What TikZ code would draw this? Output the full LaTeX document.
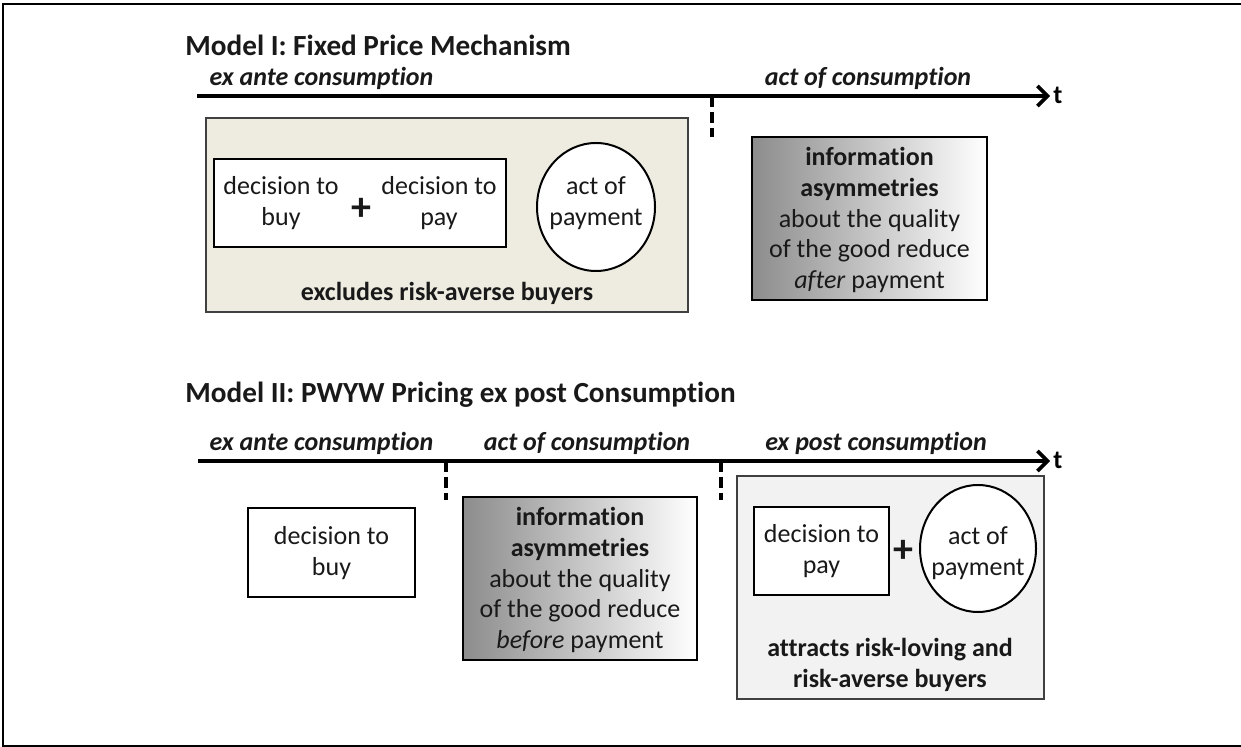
\documentclass[tikz,border=0pt]{standalone}
\usepackage{fontspec}
\setmainfont[Ligatures={NoCommon,NoContextual}]{Carlito}
\usetikzlibrary{arrows.meta,shapes.geometric}
\definecolor{tanbg}{HTML}{EEECE1}
\definecolor{lightgr}{HTML}{F2F2F2}
\tikzset{
 body/.style={font=\fontsize{13}{15.4}\selectfont, align=center, text=black!90, inner sep=0pt},
 hdr/.style={font=\fontsize{13}{15}\selectfont\bfseries\itshape, inner sep=0pt, text=black!90},
 ttl/.style={font=\fontsize{14.6}{17}\selectfont\bfseries, inner sep=0pt, anchor=west, text=black!90},
 axisline/.style={line width=1.8pt, -{Straight Barb[length=5pt,width=10pt,line width=1.8pt]}},
 tickline/.style={line width=1.8pt, dash pattern=on 5.5pt off 2.5pt},
 wbox/.style={draw=black, line width=1pt, fill=white, rectangle, inner sep=0pt},
 panel/.style={draw=black!75, line width=0.8pt, rectangle, inner sep=0pt},
 oval/.style={ellipse, draw=black, line width=1pt, fill=white, inner sep=0pt},
 grad/.style={draw=black, line width=1pt, rectangle, left color=black!45, right color=white, inner sep=0pt},
}
\begin{document}
\begin{tikzpicture}[x=0.5pt,y=-0.5pt]
\useasboundingbox (0,0) rectangle (1241,747);
\fill[white] (0,0) rectangle (1241,747);
\draw[line width=1pt] (1250,4) -- (2.7,4) -- (2.7,746) -- (1250,746);

% ---------- Model I ----------
\node[ttl] (t1) at (185,45) {Model I: Fixed Price Mechanism};
\coordinate (a1s) at (197,96);
\coordinate (a1e) at (1050,96);
\draw[axisline] (a1s) -- (a1e);
\node[font=\fontsize{13}{15}\selectfont\bfseries, anchor=west, inner sep=0pt] (t1t) at (1053,95) {t};
\node[hdr] (h1a) at (321.5,78) {ex ante consumption};
\node[hdr] (h1b) at (868,78) {act of consumption};
\coordinate (k1a) at (712,96);
\coordinate (k1b) at (712,137);
\draw[tickline] (k1a) -- (k1b);

\node[panel, fill=tanbg, minimum width=241pt, minimum height=97pt] (p1) at (447,215) {};
\node[wbox, minimum width=146pt, minimum height=44pt] (w1) at (360,203) {};
\node[body] (d1) at (281,203) {decision to\\buy};
\node[body, font=\fontsize{20}{20}\selectfont\bfseries] (plus1) at (361,209) {+};
\node[body] (d2) at (439,203) {decision to\\pay};
\node[oval, minimum width=59pt, minimum height=64pt] (e1) at (596,207) {};
\node[body] (e1t) at (596,203) {act of\\payment};
\node[body, font=\fontsize{13}{15.4}\selectfont\bfseries] (x1) at (447,293) {excludes risk-averse buyers};

\node[grad, minimum width=117.5pt, minimum height=81.5pt] (g1) at (869.5,218.5) {};
\node[body] (g1t) at (869.5,220) {\textbf{information}\\\textbf{asymmetries}\\about the quality\\of the good reduce\\\textit{after} payment};

% ---------- Model II ----------
\node[ttl] (t2) at (185,395) {Model II: PWYW Pricing ex post Consumption};
\coordinate (a2s) at (198,461);
\coordinate (a2e) at (1050,461);
\draw[axisline] (a2s) -- (a2e);
\node[font=\fontsize{13}{15}\selectfont\bfseries, anchor=west, inner sep=0pt] (t2t) at (1053,460) {t};
\node[hdr] (h2a) at (321.5,443) {ex ante consumption};
\node[hdr] (h2b) at (587,443) {act of consumption};
\node[hdr] (h2c) at (876,443) {ex post consumption};
\coordinate (k2a) at (446,461);
\coordinate (k2b) at (446,500);
\coordinate (k3a) at (721,461);
\coordinate (k3b) at (721,500);
\draw[tickline] (k2a) -- (k2b);
\draw[tickline] (k3a) -- (k3b);

\node[wbox, minimum width=83.5pt, minimum height=44.5pt] (b2) at (331.5,552.5) {};
\node[body] (b2t) at (331.5,553) {decision to\\buy};

\node[grad, minimum width=117pt, minimum height=81.5pt] (g2) at (580,578.5) {};
\node[body] (g2t) at (580,580) {\textbf{information}\\\textbf{asymmetries}\\about the quality\\of the good reduce\\\textit{before} payment};

\node[panel, fill=lightgr, minimum width=153.5pt, minimum height=111.5pt] (p2) at (890.5,587.5) {};
\node[wbox, minimum width=67.5pt, minimum height=44pt] (w2) at (821.5,551) {};
\node[body] (w2t) at (821.5,551) {decision to\\pay};
\node[body, font=\fontsize{20}{20}\selectfont\bfseries] (plus2) at (903,551) {+};
\node[oval, minimum width=58pt, minimum height=63.5pt] (e2) at (978,548.5) {};
\node[body] (e2t) at (978,553) {act of\\payment};
\node[body, font=\fontsize{13}{15.4}\selectfont\bfseries] (x2) at (890,665) {attracts risk-loving and\\risk-averse buyers};
\end{tikzpicture}
\end{document}
